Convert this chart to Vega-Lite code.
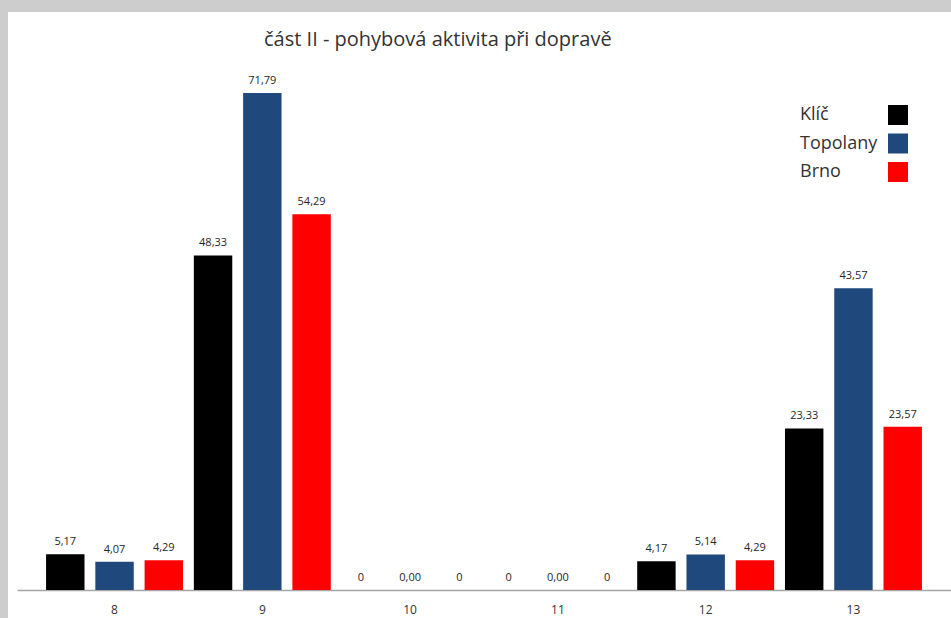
{
  "$schema": "https://vega.github.io/schema/vega-lite/v6.json",
  "autosize": "none",
  "width": 943,
  "height": 606,
  "padding": {"left": 8, "top": 12, "right": 0, "bottom": 0},
  "background": "#cdcdcd",
  "config": {
    "view": {"fill": "white", "stroke": null},
    "font": "Open Sans"
  },
  "title": {
    "text": "část II - pohybová aktivita při dopravě",
    "anchor": "start",
    "frame": "group",
    "dx": 256,
    "offset": -54,
    "baseline": "alphabetic",
    "font": "Open Sans",
    "fontSize": 20,
    "fontWeight": "normal",
    "color": "#333333"
  },
  "data": {
    "values": [
      {"grp": "8", "series": "Klíč", "value": 5.17, "label": "5,17"},
      {"grp": "8", "series": "Topolany", "value": 4.07, "label": "4,07"},
      {"grp": "8", "series": "Brno", "value": 4.29, "label": "4,29"},
      {"grp": "9", "series": "Klíč", "value": 48.33, "label": "48,33"},
      {"grp": "9", "series": "Topolany", "value": 71.79, "label": "71,79"},
      {"grp": "9", "series": "Brno", "value": 54.29, "label": "54,29"},
      {"grp": "10", "series": "Klíč", "value": 0, "label": "0"},
      {"grp": "10", "series": "Topolany", "value": 0, "label": "0,00"},
      {"grp": "10", "series": "Brno", "value": 0, "label": "0"},
      {"grp": "11", "series": "Klíč", "value": 0, "label": "0"},
      {"grp": "11", "series": "Topolany", "value": 0, "label": "0,00"},
      {"grp": "11", "series": "Brno", "value": 0, "label": "0"},
      {"grp": "12", "series": "Klíč", "value": 4.17, "label": "4,17"},
      {"grp": "12", "series": "Topolany", "value": 5.14, "label": "5,14"},
      {"grp": "12", "series": "Brno", "value": 4.29, "label": "4,29"},
      {"grp": "13", "series": "Klíč", "value": 23.33, "label": "23,33"},
      {"grp": "13", "series": "Topolany", "value": 43.57, "label": "43,57"},
      {"grp": "13", "series": "Brno", "value": 23.57, "label": "23,57"}
    ]
  },
  "encoding": {
    "x": {
      "field": "grp",
      "type": "nominal",
      "sort": ["8", "9", "10", "11", "12", "13"],
      "scale": {"range": [9, 943], "paddingInner": 0, "paddingOuter": 0.16},
      "axis": {
        "title": null,
        "orient": "bottom",
        "offset": -28,
        "labelAngle": 0,
        "ticks": false,
        "domainColor": "#a6a6a6",
        "domainWidth": 1.5,
        "labelPadding": 14,
        "labelFont": "Open Sans",
        "labelFontSize": 12,
        "labelColor": "#333333"
      }
    },
    "xOffset": {
      "field": "series",
      "type": "nominal",
      "sort": ["Klíč", "Topolany", "Brno"],
      "scale": {"paddingInner": 0.22, "paddingOuter": 0.11}
    },
    "y": {
      "field": "value",
      "type": "quantitative",
      "scale": {"domain": [-4.044, 83.49], "nice": false, "zero": false},
      "axis": null
    }
  },
  "layer": [
    {
      "mark": {"type": "bar"},
      "encoding": {
        "color": {
          "field": "series",
          "type": "nominal",
          "sort": ["Klíč", "Topolany", "Brno"],
          "scale": {
            "domain": ["Klíč", "Topolany", "Brno"],
            "range": ["#000000", "#1f497d", "#ff0000"]
          },
          "legend": {
            "orient": "none",
            "legendX": 880,
            "legendY": 93,
            "title": null,
            "padding": 0,
            "symbolType": "square",
            "symbolSize": 400,
            "symbolStrokeWidth": 0,
            "symbolOpacity": 1,
            "labelAlign": "left",
            "labelOffset": -108,
            "labelFont": "Open Sans",
            "labelFontSize": 18,
            "labelColor": "#333333",
            "rowPadding": 8.5
          }
        }
      }
    },
    {
      "mark": {
        "type": "text",
        "baseline": "alphabetic",
        "dy": -9,
        "font": "Open Sans",
        "fontSize": 11,
        "color": "#262626"
      },
      "encoding": {
        "text": {"field": "label", "type": "nominal"}
      }
    }
  ]
}
